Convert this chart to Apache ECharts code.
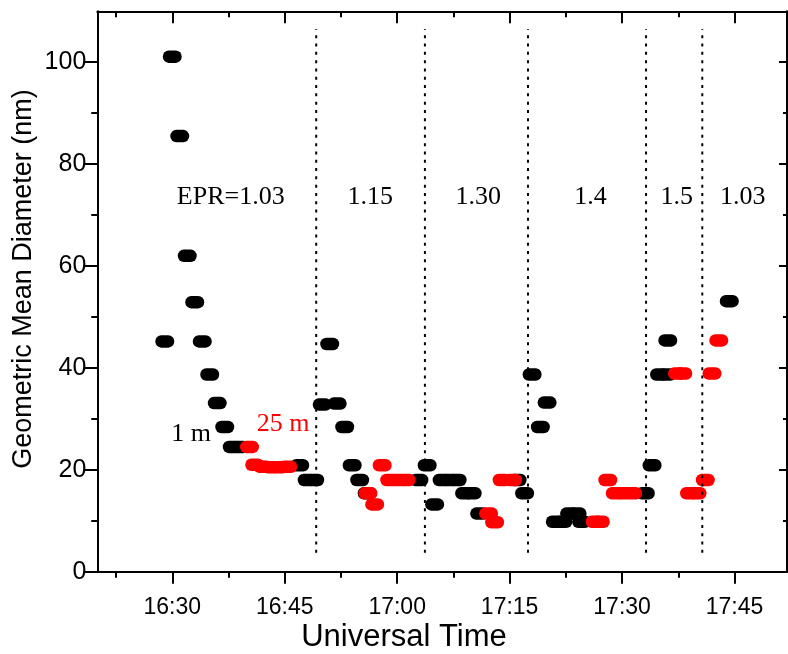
<!DOCTYPE html>
<html><head><meta charset="utf-8">
<script src="https://cdn.jsdelivr.net/npm/echarts@6/dist/echarts.min.js"></script>
<style>html,body{margin:0;padding:0;background:#fff}#c{width:788px;height:654px}</style>
</head><body><div id="c"></div>
<script>
// Times are minutes after 00:00 UT
const blackTimes  = [989.0,990.0,991.0,992.0,993.0,994.0,995.0,996.0,997.0,998.0,999.0,1007.0,1008.0,1009.0,1010.0,1011.0,1012.0,1013.0,1014.0,1015.0,1016.0,1022.9,1024.0,1025.0,1026.0,1027.0,1028.0,1029.0,1030.0,1031.0,1036.0,1037.0,1038.0,1039.1,1040.0,1041.1,1042.1,1043.0,1044.0,1044.6,1053.1,1054.0,1055.0,1056.0,1056.1,1064.3];
const blackValues = [45.2,101.1,85.5,62.0,52.9,45.2,38.7,33.1,28.4,24.5,24.5,20.9,18.0,18.0,32.8,44.7,33.0,28.4,20.9,18.0,15.4,18.0,20.9,13.2,18.0,18.0,18.0,15.4,15.4,11.4,18.0,15.4,38.7,28.4,33.2,9.8,9.8,11.4,11.4,9.8,15.4,20.9,38.7,38.7,45.4,53.1];
const redTimes  = [1000.3,1001.0,1002.1,1003.2,1004.3,1005.4,1016.1,1017.0,1018.0,1019.0,1020.1,1021.2,1032.2,1033.0,1034.0,1035.4,1046.4,1047.1,1048.1,1049.1,1050.2,1051.4,1057.4,1058.1,1059.0,1060.0,1061.1,1062.0,1062.9];
const redValues = [24.5,21.0,20.6,20.5,20.5,20.6,15.4,13.2,20.9,18.0,18.0,18.0,11.4,9.7,18.0,18.0,9.8,9.8,18.0,15.4,15.4,15.4,38.9,38.9,15.4,15.4,18.0,38.9,45.4];

const timeMin = 980, timeMax = 1072;
const valueMin = 0, valueMax = 110;
const majorTimeTicks = [990,1005,1020,1035,1050,1065];
const minorTimeTicks = [982.5,997.5,1012.5,1027.5,1042.5,1057.5];
const majorValueTicks = [0,20,40,60,80,100];
const minorValueTicks = [10,30,50,70,90];

const boundaryTimes = [1009.2,1023.7,1037.45,1053.2,1060.7];
const boundaryBottom = 3.7, boundaryTop = 106.5;

const eprLabels = ['EPR=1.03','1.15','1.30','1.4','1.5','1.03'];
const eprLabelTimes = [997.8,1016.4,1030.8,1045.8,1057.3,1066.1];
const eprLabelValue = 73.5;

const heightLabels = ['1 m','25 m'];
const heightLabelTimes = [992.5,1004.8];
const heightLabelValues = [26.9,29.0];
const heightLabelColors = ['#000','#ff0000'];

const yTitle = 'Geometric Mean Diameter (nm)';
const xTitle = 'Universal Time';

function fmtTime(v){ const h=Math.floor(v/60), m=Math.round(v-h*60); return h+':'+(m<10?'0':'')+m; }

const chart = echarts.init(document.getElementById('c'), null, {renderer:'canvas'});
const ls = {color:'#000', width:2};
const sans = '"Liberation Sans", Arial, sans-serif';
const serif = '"Liberation Serif", "Times New Roman", serif';

function xAx(pos, ticks, len, inside, labels, line){
  return {type:'value', position:pos, min:timeMin, max:timeMax,
    axisLine:{show:line, onZero:false, lineStyle:ls},
    axisTick:{show:true, inside:inside, length:len, customValues:ticks, lineStyle:ls},
    axisLabel: labels ? {show:true, customValues:ticks, formatter:fmtTime, fontSize:23, color:'#000', fontFamily:sans, margin:24} : {show:false},
    splitLine:{show:false}};
}
function yAx(pos, ticks, len, inside, labels, line){
  return {type:'value', position:pos, min:valueMin, max:valueMax,
    axisLine:{show:line, onZero:false, lineStyle:ls},
    axisTick:{show:true, inside:inside, length:len, customValues:ticks, lineStyle:ls},
    axisLabel: labels ? {show:true, customValues:ticks, fontSize:25, color:'#000', fontFamily:sans, margin:11} : {show:false},
    splitLine:{show:false}};
}

const pill = 'path://M6,0H13A6,6,0,0,1,13,12H6A6,6,0,0,1,6,0Z';

const series = [
  {type:'scatter', xAxisIndex:0, yAxisIndex:0, symbol:pill, symbolSize:[19,12.5], z:3,
   itemStyle:{color:'#000', opacity:1}, data: blackTimes.map((t,i)=>[t,blackValues[i]])},
  {type:'scatter', xAxisIndex:0, yAxisIndex:0, symbol:pill, symbolSize:[19,12.5], z:4,
   itemStyle:{color:'#ff0000', opacity:1}, data: redTimes.map((t,i)=>[t,redValues[i]])},
  {type:'scatter', xAxisIndex:0, yAxisIndex:0, symbolSize:0, itemStyle:{color:'#fff', opacity:1}, z:6,
   label:{show:true, position:'inside', formatter:p=>eprLabels[p.dataIndex], fontSize:26, fontFamily:serif, color:'#000', opacity:1},
   data: eprLabelTimes.map(t=>[t,eprLabelValue])},
  {type:'scatter', xAxisIndex:0, yAxisIndex:0, symbolSize:0, itemStyle:{color:'#fff', opacity:1}, z:6,
   label:{show:true, position:'inside', formatter:p=>heightLabels[p.dataIndex], fontSize:26, fontFamily:serif, color:'#000', opacity:1},
   data: heightLabelTimes.map((t,i)=>({value:[t,heightLabelValues[i]], label:{color:heightLabelColors[i]}}))}
];
boundaryTimes.forEach(t=>{
  series.push({type:'line', xAxisIndex:0, yAxisIndex:0, symbol:'none', z:5, silent:true,
    lineStyle:{color:'#000', width:2, type:[3,5.3]},
    data:[[t,boundaryBottom],[t,boundaryTop]]});
});

chart.setOption({
  animation:false,
  grid:{left:97.3, right:1, top:11.3, bottom:82.3},
  xAxis:[ xAx('bottom',majorTimeTicks,12,false,true,true),
          xAx('bottom',minorTimeTicks,6,false,false,false),
          xAx('top',majorTimeTicks,12,true,false,true),
          xAx('top',minorTimeTicks,6,true,false,false) ],
  yAxis:[ yAx('left',majorValueTicks,13,false,true,true),
          yAx('left',minorValueTicks,6,false,false,false),
          yAx('right',majorValueTicks,8,true,false,true),
          yAx('right',minorValueTicks,4,true,false,false) ],
  graphic:[
    {type:'text', x:24, y:279, rotation:Math.PI/2,
     style:{text:yTitle, align:'center', verticalAlign:'middle', font:'27px '+sans, fill:'#000'}},
    {type:'text', x:404, y:637,
     style:{text:xTitle, align:'center', verticalAlign:'middle', font:'31px '+sans, fill:'#000'}}
  ],
  series: series
});
</script></body></html>
